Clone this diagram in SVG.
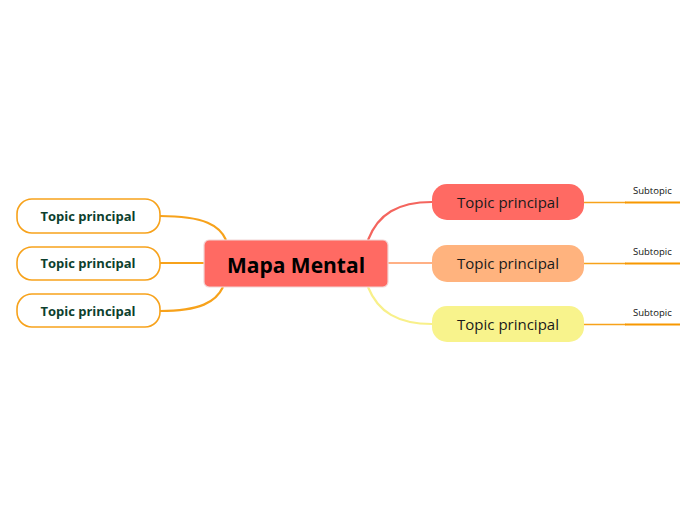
<svg xmlns="http://www.w3.org/2000/svg" width="696" height="520" viewBox="0 0 696 520">
<style>
.lnode{fill:#ffffff;stroke:#F7A21B;stroke-width:1.6}
.ltxt{font-family:"Open Sans","Noto Sans",sans-serif;font-weight:bold;font-size:13px;fill:#0D3F2E;text-anchor:middle}
.rtxt{font-family:"Open Sans","Noto Sans",sans-serif;font-size:15px;fill:#1a1a1a;text-anchor:middle}
.stxt{font-family:"Open Sans","Noto Sans",sans-serif;font-size:9.5px;fill:#111;}
.lcon{fill:none;stroke:#F7A21B;stroke-width:2.2}
.sub1{fill:none;stroke:#F7A21B;stroke-width:1.4}
.sub2{fill:none;stroke:#F79800;stroke-width:2.2}
</style>
<rect width="696" height="520" fill="#ffffff"/>
<g id="connectors">
<path class="lcon" d="M160,216 C205,216 220,226 226,240"/>
<path class="lcon" d="M160,263 L204,263"/>
<path class="lcon" d="M160,311 C200,311 216,302 223,287"/>
<path d="M368,240 C378,214 398,202 432,202" fill="none" stroke="#F4655E" stroke-width="2.2"/>
<path d="M388,263 L432,263" fill="none" stroke="#FFB085" stroke-width="2.2"/>
<path d="M368,287 C378,312 398,324 432,324" fill="none" stroke="#F8F08A" stroke-width="2.2"/>
<path class="sub1" d="M584,202.5 L626,202.5"/>
<path class="sub2" d="M625,202.5 L680,202.5"/>
<path class="sub1" d="M584,263.5 L626,263.5"/>
<path class="sub2" d="M625,263.5 L680,263.5"/>
<path class="sub1" d="M584,324.5 L626,324.5"/>
<path class="sub2" d="M625,324.5 L680,324.5"/>
</g>
<g id="central">
<rect x="204" y="240" width="184" height="47" rx="5" fill="#FF6A63" stroke="#F2D6D6" stroke-width="1.2"/>
<text x="296" y="273" text-anchor="middle" font-family="'Open Sans','Noto Sans',sans-serif" font-weight="bold" font-size="21px" fill="#000">Mapa Mental</text>
</g>
<g id="left1"><rect class="lnode" x="17" y="199" width="143" height="34" rx="15"/><text class="ltxt" x="88" y="221">Topic principal</text></g>
<g id="left2"><rect class="lnode" x="17" y="247" width="143" height="33" rx="15"/><text class="ltxt" x="88" y="268">Topic principal</text></g>
<g id="left3"><rect class="lnode" x="17" y="294" width="143" height="33" rx="15"/><text class="ltxt" x="88" y="316">Topic principal</text></g>
<g id="right1"><rect x="432" y="184" width="152" height="36" rx="15" fill="#FF6A63"/><text class="rtxt" x="508" y="207.5">Topic principal</text></g>
<g id="right2"><rect x="432" y="245" width="152" height="37" rx="15" fill="#FFB37E"/><text class="rtxt" x="508" y="269">Topic principal</text></g>
<g id="right3"><rect x="432" y="306" width="152" height="36" rx="15" fill="#F8F38C"/><text class="rtxt" x="508" y="330">Topic principal</text></g>
<g id="sub1"><text class="stxt" x="633" y="194">Subtopic</text></g>
<g id="sub2"><text class="stxt" x="633" y="255">Subtopic</text></g>
<g id="sub3"><text class="stxt" x="633" y="316">Subtopic</text></g>
</svg>
